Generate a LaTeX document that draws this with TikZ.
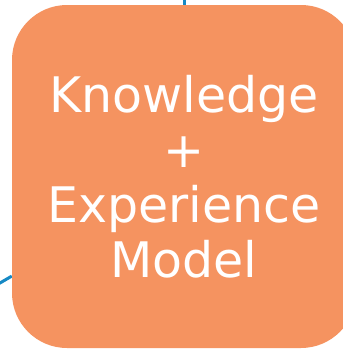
\documentclass[tikz,border=0pt]{standalone}
\usepackage{fontspec}
\usetikzlibrary{backgrounds}
\newfontfamily\dvsans{DejaVu Sans}
\definecolor{boxorange}{RGB}{245,147,96}
\definecolor{linkblue}{RGB}{22,137,196}
\begin{document}
\begin{tikzpicture}[x=1pt,y=-1pt,
  kbox/.style={fill=boxorange, draw=none, rounded corners=55pt,
    minimum width=344pt, minimum height=343pt, inner sep=0pt,
    text=white, align=center, font=\dvsans\fontsize{49}{55}\selectfont},
  link/.style={draw=linkblue, line width=3pt}]
\useasboundingbox (0,0) rectangle (343,349);
\clip (0,0) rectangle (343,349);
\coordinate (up) at (184,-40);
\coordinate (left) at (-40,306.3);
\node[kbox] (km) at (184,176.5) {Knowledge\\+\\Experience\\Model};
\begin{scope}[on background layer]
\draw[link] (left) -- (km);
\draw[link] (km.north) -- (up);
\end{scope}
\end{tikzpicture}
\end{document}
